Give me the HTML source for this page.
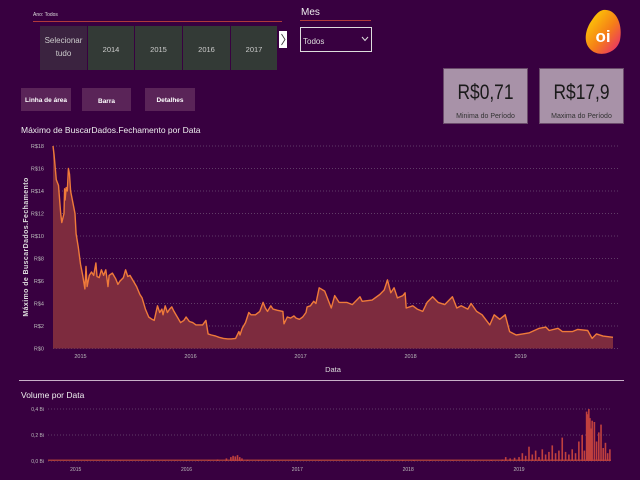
<!DOCTYPE html>
<html><head><meta charset="utf-8"><style>
body{margin:0;background:#380040;width:640px;height:480px;overflow:hidden;font-family:"Liberation Sans",sans-serif;}
svg{display:block}
text{font-family:"Liberation Sans",sans-serif}
</style></head><body>
<svg id="s" width="640" height="480" viewBox="0 0 640 480">
<rect width="640" height="480" fill="#380040"/>
<text x="33" y="16" font-size="5" fill="#ddd">Ano: Todos</text>
<line x1="33" y1="21.5" x2="282" y2="21.5" stroke="#b03a3a" stroke-width="1"/>
<g><rect x="40" y="26" width="47" height="44" fill="#3b2340"/><text x="63.5" y="43" font-size="8" fill="#ccc" text-anchor="middle">Selecionar</text><text x="63.5" y="56" font-size="8" fill="#ccc" text-anchor="middle">tudo</text></g>
<g><rect x="88" y="26" width="46" height="44" fill="#333a36"/><text x="111" y="52" font-size="7.5" fill="#ccc" text-anchor="middle">2014</text></g>
<g><rect x="135" y="26" width="47" height="44" fill="#333a36"/><text x="158.5" y="52" font-size="7.5" fill="#ccc" text-anchor="middle">2015</text></g>
<g><rect x="183" y="26" width="47" height="44" fill="#333a36"/><text x="206.5" y="52" font-size="7.5" fill="#ccc" text-anchor="middle">2016</text></g>
<g><rect x="231" y="26" width="46" height="44" fill="#333a36"/><text x="254" y="52" font-size="7.5" fill="#ccc" text-anchor="middle">2017</text></g>
<g><rect x="279" y="31" width="8" height="17" fill="#fff"/><path d="M281.5 34 L285 39.5 L281.5 45" stroke="#333" fill="none" stroke-width="0.8"/></g>
<text x="301" y="15" font-size="10" fill="#eee">Mes</text>
<line x1="300" y1="20.5" x2="371" y2="20.5" stroke="#b03a3a"/>
<g><rect x="300.5" y="27.5" width="71" height="24" fill="none" stroke="#ddd"/><text x="303" y="44" font-size="8" fill="#ddd">Todos</text><path d="M362 37 L365 40.5 L368 37" stroke="#ddd" fill="none"/></g>
<defs><linearGradient id="lg" x1="0" y1="0" x2="1" y2="1"><stop offset="0" stop-color="#ffe000"/><stop offset="0.55" stop-color="#f57f17"/><stop offset="1" stop-color="#e8207a"/></linearGradient></defs>
<g><path d="M603 10 C617 8 623 26 620 40 C617 53 600 58 591 50 C582 42 586 28 592 20 C596 14 599 11 603 10Z" fill="url(#lg)"/><text x="603" y="42" font-size="17" font-weight="bold" fill="#fff" text-anchor="middle">oi</text></g>
<g><rect x="21" y="88" width="50" height="23" fill="#5a2458"/><text x="46" y="102" font-size="6.5" font-weight="bold" fill="#fff" text-anchor="middle">Linha de área</text></g>
<g><rect x="82" y="88" width="49" height="23" fill="#5a2458"/><text x="106.5" y="103" font-size="6.5" font-weight="bold" fill="#fff" text-anchor="middle">Barra</text></g>
<g><rect x="145" y="88" width="50" height="23" fill="#5a2458"/><text x="170" y="102" font-size="6.5" font-weight="bold" fill="#fff" text-anchor="middle">Detalhes</text></g>
<g><rect x="443.5" y="68.5" width="84" height="55" fill="#a892a8" stroke="#6a4a6a"/><text x="485.5" y="99" font-size="21" fill="#1a1a1a" text-anchor="middle" textLength="56" lengthAdjust="spacingAndGlyphs">R$0,71</text><text x="485.5" y="118" font-size="7" fill="#333" text-anchor="middle">Minima do Período</text></g>
<g><rect x="539.5" y="68.5" width="84" height="55" fill="#a892a8" stroke="#6a4a6a"/><text x="581.5" y="99" font-size="21" fill="#1a1a1a" text-anchor="middle" textLength="56" lengthAdjust="spacingAndGlyphs">R$17,9</text><text x="581.5" y="118" font-size="7" fill="#333" text-anchor="middle">Maxima do Período</text></g>
<text x="21" y="133" font-size="8.5" fill="#eee">Máximo de BuscarDados.Fechamento por Data</text>
<text transform="translate(28,247) rotate(-90)" font-size="7" font-weight="bold" fill="#ddd" text-anchor="middle" letter-spacing="0.4">Máximo de BuscarDados.Fechamento</text>
<text x="333" y="372" font-size="7.5" fill="#ddd" text-anchor="middle">Data</text>
<g id="main"></g>
<line x1="19" y1="380.5" x2="624" y2="380.5" stroke="#c8b0c8"/>
<text x="21" y="398" font-size="8.5" fill="#eee">Volume por Data</text>
<g id="vol"></g>
</svg>
<script>
const priceDates=[2014.75,2014.76,2014.78,2014.80,2014.82,2014.83,2014.85,2014.855,2014.86,2014.87,2014.88,2014.89,2014.90,2014.91,2014.93,2014.95,2014.96,2014.98,2015.00,2015.02,2015.04,2015.05,2015.06,2015.08,2015.10,2015.12,2015.14,2015.15,2015.17,2015.19,2015.21,2015.23,2015.25,2015.26,2015.29,2015.32,2015.34,2015.36,2015.39,2015.41,2015.43,2015.45,2015.48,2015.51,2015.54,2015.56,2015.59,2015.62,2015.65,2015.67,2015.70,2015.72,2015.74,2015.75,2015.77,2015.79,2015.81,2015.83,2015.85,2015.88,2015.91,2015.94,2015.96,2015.99,2016.02,2016.05,2016.07,2016.11,2016.14,2016.16,2016.19,2016.23,2016.26,2016.30,2016.34,2016.37,2016.41,2016.44,2016.45,2016.47,2016.50,2016.53,2016.55,2016.59,2016.63,2016.66,2016.68,2016.70,2016.73,2016.75,2016.79,2016.84,2016.85,2016.88,2016.91,2016.94,2016.96,2016.99,2017.02,2017.05,2017.06,2017.09,2017.12,2017.14,2017.17,2017.22,2017.28,2017.31,2017.35,2017.42,2017.47,2017.54,2017.56,2017.65,2017.72,2017.76,2017.79,2017.82,2017.85,2017.88,2017.93,2017.95,2017.96,2018.02,2018.06,2018.11,2018.15,2018.20,2018.25,2018.31,2018.38,2018.42,2018.46,2018.52,2018.55,2018.60,2018.65,2018.72,2018.76,2018.81,2018.86,2018.90,2018.96,2019.02,2019.08,2019.17,2019.23,2019.26,2019.34,2019.38,2019.47,2019.52,2019.61,2019.65,2019.69,2019.75,2019.84];
const priceValues=[18,17.2,15,14.5,12,11.2,12,14.2,13.2,14.3,14,16,15.5,14,13,12,10.2,9,7.5,6.5,5.3,7.3,5.5,6.5,6.8,6.5,7.6,6.4,6.3,7,6.5,7,5.5,6.5,6.7,6.2,5.7,6,6.3,7,6.4,6.5,6,5.5,4.8,4.5,3.5,2.8,2.6,2.5,3.8,3.2,3.5,3,3.8,3.2,3.5,3.7,3.3,2.8,2.3,2.5,2.8,2.4,2.3,2.1,2.1,2.1,2.5,1.3,1.2,1.1,1.0,0.9,0.85,0.85,0.9,1.5,1.2,1.8,2.3,3.2,3.0,3.0,3.3,4.1,3.6,3.3,3.8,3.5,3.4,3.3,2.2,2.8,2.7,2.9,2.7,2.6,2.8,3.2,3.7,3.8,4.2,4.0,5.4,5.1,3.6,4.7,4.1,4.1,3.9,4.6,4.2,4.3,4.8,5.2,6.1,4.95,5.4,4.5,4.7,4.95,3.6,3.8,3.5,3.3,4.1,4.6,4.1,3.9,4.6,3.6,3.8,3.5,4.0,3.3,3.0,2.1,3.0,2.6,3.0,1.5,1.2,1.3,1.4,1.8,1.9,1.6,1.8,1.5,1.5,1.7,1.6,0.9,1.3,1.1,1.0];
const priceTicks=[0,2,4,6,8,10,12,14,16,18];
const yearTicks=[2015,2016,2017,2018,2019];
const volDates=[2014.80,2014.90,2015.00,2015.10,2015.20,2015.30,2015.40,2015.50,2015.60,2015.70,2015.80,2015.90,2016.00,2016.10,2016.20,2016.28,2016.36,2016.40,2016.42,2016.44,2016.46,2016.48,2016.50,2016.55,2016.65,2016.80,2017.00,2017.20,2017.40,2017.60,2017.80,2017.95,2018.05,2018.20,2018.40,2018.60,2018.75,2018.85,2018.88,2018.92,2018.96,2019.00,2019.03,2019.06,2019.09,2019.12,2019.15,2019.18,2019.21,2019.24,2019.27,2019.30,2019.33,2019.36,2019.39,2019.42,2019.45,2019.48,2019.51,2019.54,2019.57,2019.59,2019.61,2019.62,2019.63,2019.64,2019.65,2019.66,2019.68,2019.70,2019.72,2019.74,2019.76,2019.78,2019.80,2019.82];
const volValues=[0.004,0.003,0.003,0.004,0.003,0.003,0.004,0.003,0.003,0.004,0.003,0.004,0.005,0.006,0.008,0.012,0.02,0.03,0.04,0.035,0.045,0.03,0.02,0.01,0.006,0.005,0.005,0.004,0.006,0.005,0.005,0.007,0.008,0.006,0.005,0.006,0.008,0.012,0.03,0.02,0.025,0.03,0.06,0.04,0.11,0.05,0.08,0.03,0.09,0.05,0.07,0.12,0.06,0.08,0.18,0.07,0.05,0.09,0.06,0.15,0.2,0.08,0.38,0.36,0.4,0.33,0.25,0.31,0.30,0.15,0.22,0.28,0.10,0.14,0.06,0.09];
const volTicks=[0,0.2,0.4];
const volTickLabels=['0,0 Bi','0,2 Bi','0,4 Bi'];
const NS='http://www.w3.org/2000/svg';
function mk(tag,attrs,parent){const e=document.createElementNS(NS,tag);for(const k in attrs)e.setAttribute(k,attrs[k]);parent.appendChild(e);return e;}
const xMain=d=>53+(d-2014.75)/(2019.84-2014.75)*560;
const yMain=v=>348.5-v*11.25;
const gm=document.getElementById('main');
priceTicks.forEach(t=>{
 const l=mk('line',{x1:53,x2:618,y1:yMain(t),y2:yMain(t),stroke:'#8a7a8e','stroke-width':0.6,'stroke-dasharray':'1,2'},gm);
 
 
 const tx=mk('text',{x:44,y:yMain(t)+2,'font-size':5.5,fill:'#bbb','text-anchor':'end'},gm);
 tx.textContent='R$'+t;
 
 
});
yearTicks.forEach(y=>{
 const tx=mk('text',{x:xMain(y),y:358,'font-size':5.5,fill:'#bbb','text-anchor':'middle'},gm);
 tx.textContent=y;
 
 
});
let pts=priceDates.map((d,i)=>xMain(d).toFixed(1)+','+yMain(priceValues[i]).toFixed(1));
const area=mk('path',{d:'M'+xMain(priceDates[0])+','+yMain(0)+' L'+pts.join(' L')+' L'+xMain(priceDates[priceDates.length-1])+','+yMain(0)+'Z',fill:'#7d2b3e'},gm);


const line=mk('polyline',{points:pts.join(' '),fill:'none',stroke:'#ef7a3a','stroke-width':1.4,'stroke-linejoin':'round'},gm);


const xVol=d=>48+(d-2014.75)/(2019.83-2014.75)*563;
const yVol=v=>461-v*130;
const gv=document.getElementById('vol');
volTicks.forEach((t,i)=>{
 const l=mk('line',{x1:48,x2:612,y1:yVol(t),y2:yVol(t),stroke:'#8a7a8e','stroke-width':0.6,'stroke-dasharray':'1,2'},gv);
 
 
 const tx=mk('text',{x:44,y:yVol(t)+2,'font-size':5,fill:'#bbb','text-anchor':'end'},gv);
 tx.textContent=volTickLabels[i];
 
 
});
yearTicks.forEach(y=>{
 const tx=mk('text',{x:xVol(y),y:471,'font-size':5,fill:'#bbb','text-anchor':'middle'},gv);
 tx.textContent=y;
 
 
});
const base=mk('rect',{x:48,y:459.5,width:563,height:1.5,fill:'#a03a3a'},gv);


volDates.forEach((d,i)=>{
 const h=volValues[i]*130;
 const r=mk('rect',{x:xVol(d)-0.8,y:461-h,width:1.6,height:h,fill:'#c0403e'},gv);
 
 
});
</script>
</body></html>
